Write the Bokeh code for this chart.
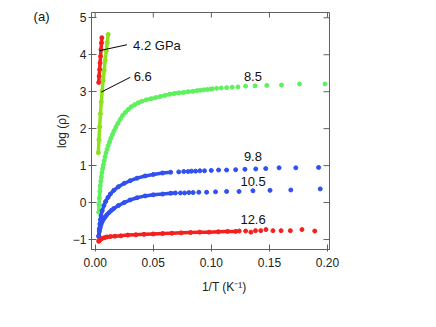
from bokeh.plotting import figure
from bokeh.models import LinearAxis, Range1d, Label, Segment, ColumnDataSource, FixedTicker, NumeralTickFormatter
from bokeh.embed import file_html
from bokeh.resources import INLINE

# ---- data ----
p42_x = [0.0030, 0.0034, 0.0038, 0.0042, 0.0046, 0.0050, 0.0054, 0.0057]
p42_y = [3.25, 3.42, 3.60, 3.78, 3.96, 4.14, 4.32, 4.46]

p66_x = [0.0027, 0.0032, 0.0038, 0.0045, 0.0052, 0.0060, 0.0068, 0.0077, 0.0086, 0.0095, 0.0104, 0.0112]
p66_y = [1.35, 1.70, 2.05, 2.40, 2.72, 3.02, 3.30, 3.58, 3.85, 4.10, 4.33, 4.55]

p85_x = [0.0030, 0.0033, 0.0036, 0.0040, 0.0044, 0.0048, 0.0053, 0.0058, 0.0064, 0.0070, 0.0077,
         0.0085, 0.0093, 0.0102, 0.0112, 0.0123, 0.0135, 0.0148, 0.0162, 0.0178, 0.0195, 0.0215,
         0.0237, 0.0260, 0.0285, 0.031, 0.034, 0.037, 0.040, 0.044, 0.048, 0.052, 0.056, 0.060,
         0.064, 0.068, 0.072, 0.076, 0.080, 0.084, 0.088,
         0.0907, 0.0935, 0.0964, 0.0993, 0.1008, 0.1045, 0.1085, 0.1131, 0.1180, 0.1229, 0.1295,
         0.1376, 0.1477, 0.1604, 0.1759, 0.1978]
p85_y = [-0.26, -0.05, 0.12, 0.30, 0.45, 0.58, 0.70, 0.81, 0.92, 1.02, 1.13,
         1.24, 1.34, 1.44, 1.54, 1.64, 1.74, 1.84, 1.94, 2.04, 2.14, 2.25,
         2.36, 2.44, 2.52, 2.59, 2.65, 2.70, 2.74, 2.78, 2.81, 2.84, 2.87, 2.90,
         2.93, 2.95, 2.97, 2.98, 3.00, 3.01, 3.03,
         3.04, 3.05, 3.06, 3.07, 3.08, 3.09, 3.10, 3.11, 3.12, 3.13, 3.15,
         3.16, 3.17, 3.18, 3.21, 3.21]

p98_x = [0.0030, 0.0035, 0.0040, 0.0045, 0.0050, 0.0060, 0.0075, 0.0090, 0.0110, 0.0130, 0.0160,
         0.0200, 0.0250, 0.0300, 0.0360, 0.0430, 0.0500, 0.0580, 0.0650,
         0.0719, 0.0762, 0.0800, 0.0829, 0.0864, 0.0901, 0.0941, 0.0999, 0.1062, 0.1131, 0.1209,
         0.1289, 0.1382, 0.1468, 0.1583, 0.1727, 0.1923]
p98_y = [-0.90, -0.72, -0.58, -0.46, -0.36, -0.22, -0.08, 0.03, 0.14, 0.23, 0.33,
         0.43, 0.52, 0.59, 0.66, 0.72, 0.76, 0.80, 0.82,
         0.83, 0.84, 0.84, 0.85, 0.85, 0.86, 0.86, 0.87, 0.88, 0.88, 0.89,
         0.90, 0.91, 0.92, 0.94, 0.94, 0.95]

p105_x = [0.0030, 0.0036, 0.0043, 0.0050, 0.0060, 0.0072, 0.0086, 0.0100, 0.0120, 0.0140, 0.0160,
          0.0200, 0.0250, 0.0300, 0.0360, 0.0430, 0.0500, 0.0580, 0.0650,
          0.0691, 0.0734, 0.0769, 0.0806, 0.0843, 0.0892, 0.0959, 0.1036, 0.1131, 0.1238,
          0.1358, 0.1505, 0.1684, 0.1937]
p105_y = [-0.92, -0.78, -0.68, -0.60, -0.52, -0.45, -0.39, -0.33, -0.27, -0.21, -0.16,
          -0.08, 0.00, 0.07, 0.13, 0.18, 0.21, 0.23, 0.25,
          0.26, 0.26, 0.26, 0.27, 0.27, 0.28, 0.28, 0.29, 0.30, 0.30,
          0.32, 0.33, 0.34, 0.37]

p126_x = [0.0030, 0.0035, 0.0045, 0.0060, 0.0080, 0.0100, 0.0130, 0.0170, 0.0220, 0.0280, 0.0350,
          0.0420, 0.0500, 0.0580, 0.0660, 0.0740, 0.0820, 0.0900, 0.0980, 0.1060, 0.1140, 0.1210,
          0.1240, 0.1295, 0.1340, 0.1380, 0.1425, 0.1470, 0.1530, 0.1600, 0.1680, 0.1780, 0.1890]
p126_y = [-1.05, -1.03, -1.00, -0.97, -0.95, -0.93, -0.92, -0.91, -0.90, -0.88, -0.87,
          -0.86, -0.85, -0.84, -0.83, -0.82, -0.81, -0.80, -0.80, -0.79, -0.78, -0.78,
          -0.77, -0.77, -0.80, -0.76, -0.76, -0.73, -0.76, -0.76, -0.76, -0.73, -0.77]

x_ticks = [0.0, 0.05, 0.10, 0.15, 0.20]
y_ticks = [-1, 0, 1, 2, 3, 4, 5]

labels_text = ["4.2 GPa", "6.6", "8.5", "9.8", "10.5", "12.6"]
labels_x = [0.0326, 0.0331, 0.128, 0.128, 0.125, 0.125]
labels_y = [4.25, 3.41, 3.41, 1.26, 0.57, -0.46]

leader_x0 = [0.0037, 0.0052]
leader_y0 = [4.11, 2.99]
leader_x1 = [0.0273, 0.0302]
leader_y1 = [4.27, 3.39]

panel_label = "(a)"
panel_label_y = 5.03
x_title = "1/T  (K\u207b\u00b9)"
x_title_x = 0.1125
y_title = "log (\u03c1)"

# ---- styling ----
RED = "#f5201e"
LIME = "#8ee21a"
GREEN = "#5ef05e"
BLUE = "#3050f0"
AXC = "#606060"
FONT = "Liberation Sans"

X0, X1 = -0.0032, 0.2017
Y0, Y1 = -1.27, 5.143
W, H = 420, 311
BL, BR, BT, BB = 91, 91, 12, 62

p = figure(width=W, height=H, output_backend="svg", toolbar_location=None,
           x_range=Range1d(X0, X1), y_range=Range1d(Y0, Y1),
           min_border_left=BL, min_border_right=BR, min_border_top=BT, min_border_bottom=BB)
p.grid.visible = False
p.outline_line_color = AXC
p.background_fill_color = "white"
p.border_fill_color = "white"

p.xaxis.ticker = FixedTicker(ticks=x_ticks)
p.xaxis.formatter = NumeralTickFormatter(format="0.00")
p.yaxis.ticker = FixedTicker(ticks=y_ticks)
for ax in [p.xaxis[0], p.yaxis[0]]:
    ax.axis_line_color = AXC
    ax.major_tick_line_color = AXC
    ax.minor_tick_line_color = None
    ax.major_label_text_font = FONT
    ax.major_label_text_font_size = "12px"
    ax.major_label_text_color = "#222222"
    ax.axis_label_text_font = FONT
    ax.axis_label_text_font_size = "12px"
    ax.axis_label_text_font_style = "normal"
    ax.axis_label_text_color = "#222222"
p.xaxis.major_tick_in = 5
p.xaxis.major_tick_out = 2
p.yaxis.major_tick_in = 5
p.yaxis.major_tick_out = 3
p.yaxis.axis_label = y_title
p.yaxis.major_label_standoff = 2
p.yaxis.axis_label_standoff = 1
p.xaxis.major_label_standoff = 6

# extra bottom axis carrying the x title at its own position
xt = LinearAxis(ticker=FixedTicker(ticks=[x_title_x]), major_label_overrides={x_title_x: x_title},
                axis_line_color=None, major_tick_line_color=None, minor_tick_line_color=None,
                major_label_text_font=FONT, major_label_text_font_size="12px",
                major_label_text_color="#222222", major_label_standoff=4)
p.add_layout(xt, "below")

# extra left axis carrying the panel label
pl = LinearAxis(ticker=FixedTicker(ticks=[panel_label_y]), major_label_overrides={panel_label_y: panel_label},
                axis_line_color=None, major_tick_line_color=None, minor_tick_line_color=None,
                major_label_text_font=FONT, major_label_text_font_size="13px",
                major_label_text_color="#111111", major_label_standoff=-4)
p.add_layout(pl, "left")

# inner ticks on the top and right edges
fh = H - BT - BB
fw = W - BL - BR
ty = (Y1 - Y0) / fh * 5
rx = (X1 - X0) / fw * 6
p.segment(x0=x_ticks, y0=[Y1] * len(x_ticks), x1=x_ticks, y1=[Y1 - ty] * len(x_ticks),
          line_color=AXC, line_width=1)
p.segment(x0=[X1] * len(y_ticks), y0=y_ticks, x1=[X1 - rx] * len(y_ticks), y1=y_ticks,
          line_color=AXC, line_width=1)

def draw(xs, ys, color, cut):
    lx = [x for x in xs if x <= cut]
    ly = [y for x, y in zip(xs, ys) if x <= cut]
    p.line(lx, ly, line_color=color, line_width=3.5)
    p.scatter(xs, ys, size=4, color=color)

draw(p85_x, p85_y, GREEN, 0.09)
draw(p66_x, p66_y, LIME, 1.0)
draw(p42_x, p42_y, RED, 1.0)
draw(p98_x, p98_y, BLUE, 0.07)
draw(p105_x, p105_y, BLUE, 0.07)
draw(p126_x, p126_y, RED, 0.122)

src = ColumnDataSource(dict(x0=leader_x0, y0=leader_y0, x1=leader_x1, y1=leader_y1))
p.add_glyph(src, Segment(x0="x0", y0="y0", x1="x1", y1="y1", line_color="black", line_width=1))

for t, x, y in zip(labels_text, labels_x, labels_y):
    p.add_layout(Label(x=x, y=y, text=t, text_font=FONT, text_font_size="13px",
                       text_baseline="middle", text_align="left", text_color="#111111"))

open("out.html", "w").write(file_html(p, INLINE))
